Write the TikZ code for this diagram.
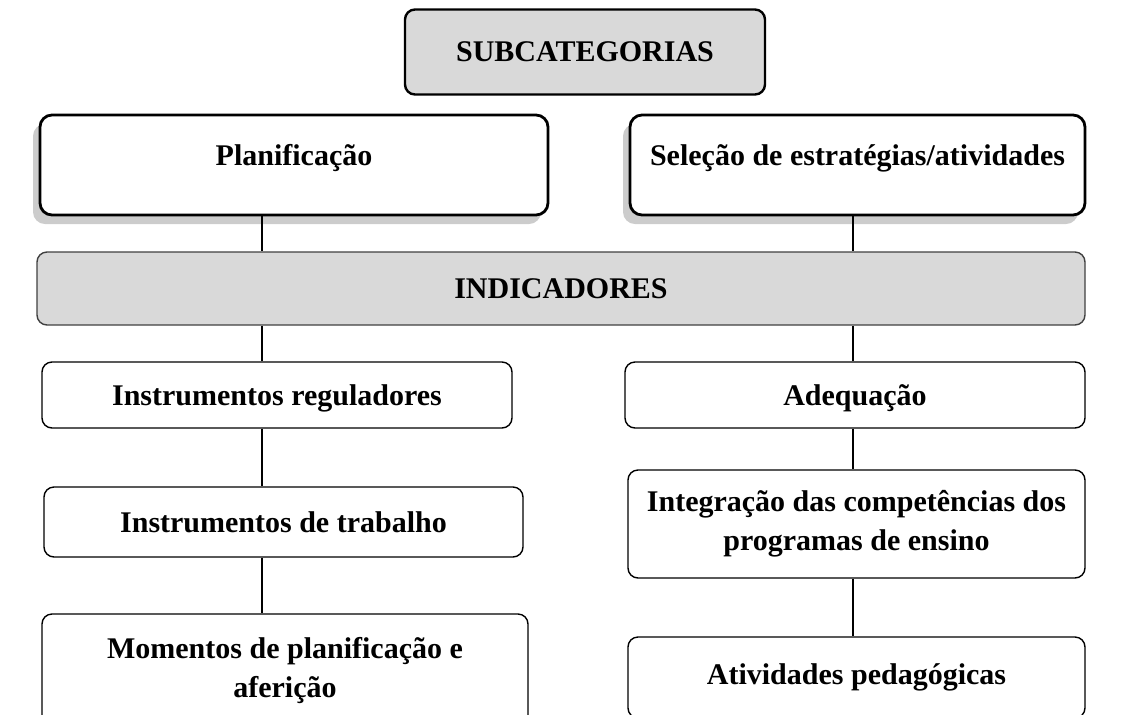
\documentclass[tikz,border=0pt]{standalone}
\usepackage{fontspec}
\setmainfont{Liberation Serif}
\usetikzlibrary{shadows}

\begin{document}
\begin{tikzpicture}[
    x=0.5pt, y=-0.5pt,
    headbox/.style={rectangle, draw, line width=1.2pt, rounded corners=5pt, fill=black!15, font=\fontsize{15}{19}\selectfont\bfseries},
    subcat/.style={rectangle, draw, line width=1.4pt, rounded corners=6pt, fill=white, minimum width=254pt, minimum height=50pt, text height=11pt, text depth=11pt, font=\fontsize{15}{19}\selectfont\bfseries, drop shadow={shadow xshift=-3.5pt, shadow yshift=-4.5pt, fill=black!40}},
    indbox/.style={rectangle, draw=black!75, line width=0.7pt, rounded corners=5pt, fill=black!15, font=\fontsize{15}{19}\selectfont\bfseries},
    item/.style={rectangle, draw, line width=0.7pt, rounded corners=5pt, fill=white, align=center, font=\fontsize{15}{19.5}\selectfont\bfseries},
    lowtext/.style={text height=14pt, text depth=4pt},
    link/.style={line width=1.3pt}
]
\useasboundingbox (0,0) rectangle (1132,714);
\clip (0,0) rectangle (1132,714);

% Header
\node[headbox, minimum width=180pt, minimum height=42.5pt] (subcategorias) at (585,52) {SUBCATEGORIAS};

% Subcategories
\node[subcat] (planificacao) at (294,165) {Planificação};
\node[subcat, minimum width=227.5pt] (selecao) at (857.5,165) {Seleção de estratégias/atividades};

% Indicators bar
\node[indbox, minimum width=524pt, minimum height=36.5pt] (indicadores) at (561,288.5) {INDICADORES};

% Left column
\node[item, lowtext, minimum width=235pt, minimum height=33pt] (reguladores) at (277,395) {Instrumentos reguladores};
\node[item, minimum width=239.5pt, minimum height=35pt] (trabalho) at (283.5,522) {Instrumentos de trabalho};
\node[item, minimum width=243pt, minimum height=57pt] (momentos) at (285,671) {Momentos de planificação e\\aferição};

% Right column
\node[item, lowtext, minimum width=230pt, minimum height=33pt] (adequacao) at (855,395) {Adequação};
\node[item, minimum width=228.5pt, minimum height=54pt] (integracao) at (856.5,524) {Integração das competências dos\\programas de ensino};
\node[item, minimum width=228.5pt, minimum height=40.5pt] (atividades) at (856.5,677.5) {Atividades pedagógicas};

% Connectors
\coordinate (colL) at (262,0);
\coordinate (colR) at (853,0);
\draw[link] (planificacao.south -| colL) -- (indicadores.north -| colL);
\draw[link] (selecao.south -| colR) -- (indicadores.north -| colR);
\draw[link] (indicadores.south -| colL) -- (reguladores.north -| colL);
\draw[link] (reguladores.south -| colL) -- (trabalho.north -| colL);
\draw[link] (trabalho.south -| colL) -- (momentos.north -| colL);
\draw[link] (indicadores.south -| colR) -- (adequacao.north -| colR);
\draw[link] (adequacao.south -| colR) -- (integracao.north -| colR);
\draw[link] (integracao.south -| colR) -- (atividades.north -| colR);

\end{tikzpicture}
\end{document}
